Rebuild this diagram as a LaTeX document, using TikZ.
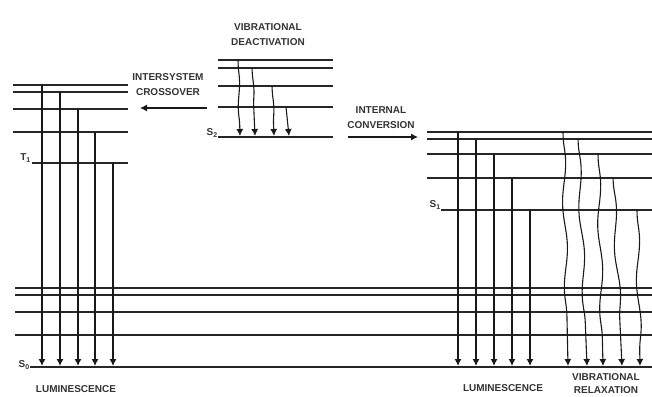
\documentclass[tikz,border=0pt]{standalone}
\usepackage{fontspec}
\setmainfont{Liberation Sans}
\usetikzlibrary{arrows.meta,decorations.pathmorphing}

\begin{document}
\begin{tikzpicture}[x=1pt,y=-1pt,
  level/.style={line width=1.2pt, black!85},
  decay/.style={line width=1.1pt, black!90, -{Latex[length=7pt,width=7pt]}},
  wavy/.style={decay, decorate, decoration={snake, amplitude=2pt, segment length=85pt, pre length=3pt, post length=8pt}},
  wiggle/.style={decay, decorate, decoration={snake, amplitude=1pt, segment length=55pt, pre length=4pt, post length=8pt}},
  lbl/.style={font=\bfseries\fontsize{10}{15}\selectfont, align=center, inner sep=0pt, text=black!80}
]
  \useasboundingbox (0,0) rectangle (652,396);

  % Parameters
  \def\yground{367}     % y of S0
  \def\ytip{366}        % arrow tips on S0

  % Ground state S0 and its vibrational levels
  \foreach \y in {288,295,312,335}
    \draw[level] (15,\y) -- (652,\y);
  \draw[level] (30,\yground) -- (652,\yground);
  \node[lbl, anchor=east] (szero) at (30,365) {S\textsubscript{0}};

  % Triplet T1 (left)
  \foreach \y in {85,92,109,132}
    \draw[level] (13,\y) -- (128,\y);
  \draw[level] (32,163) -- (128,163);
  \node[lbl, anchor=east] (tone) at (31,158) {T\textsubscript{1}};
  \foreach \x/\y in {42/85, 60/92, 78/109, 95/132, 113/163}
    \draw[decay] (\x,\y) -- (\x,\ytip);

  % Singlet S2 (middle)
  \foreach \y in {60,68,86,107}
    \draw[level] (218,\y) -- (333,\y);
  \draw[level] (218,137) -- (333,137);
  \node[lbl, anchor=east] (stwo) at (218,133) {S\textsubscript{2}};
  \foreach \xa/\ya/\xb in {238/60/240, 252/68/255, 272/86/274, 286/107/289}
    \draw[wiggle] (\xa,\ya) -- (\xb,136);

  % Singlet S1 (right)
  \foreach \y in {132,139,154,178}
    \draw[level] (427,\y) -- (652,\y);
  \draw[level] (441,210) -- (652,210);
  \node[lbl, anchor=east] (sone) at (441,205) {S\textsubscript{1}};
  \foreach \x/\y in {458/132, 476/139, 494/154, 512/178, 530/210}
    \draw[decay] (\x,\y) -- (\x,\ytip);
  \foreach \xa/\ya/\xb in {563/132/568, 578/139/587, 598/154/603, 613/178/622, 637/210/640}
    \draw[wavy] (\xa,\ya) -- (\xb,\ytip);

  % Transitions between the states
  \node[lbl] (isc) at (168,85) {INTERSYSTEM\\CROSSOVER};
  \coordinate (isc-a) at (207,108);
  \coordinate (isc-b) at (140,108);
  \draw[decay] (isc-a) -- (isc-b);

  \node[lbl] (ic) at (381,118) {INTERNAL\\CONVERSION};
  \coordinate (ic-a) at (348,137);
  \coordinate (ic-b) at (418,137);
  \draw[decay] (ic-a) -- (ic-b);

  % Labels
  \node[lbl] (vibdeact) at (268,35) {VIBRATIONAL\\DEACTIVATION};
  \node[lbl] (lumleft) at (76,389) {LUMINESCENCE};
  \node[lbl] (lumright) at (503,388) {LUMINESCENCE};
  \node[lbl, font=\bfseries\fontsize{10}{13}\selectfont] (vibrelax) at (606,384) {VIBRATIONAL\\RELAXATION};
\end{tikzpicture}
\end{document}
